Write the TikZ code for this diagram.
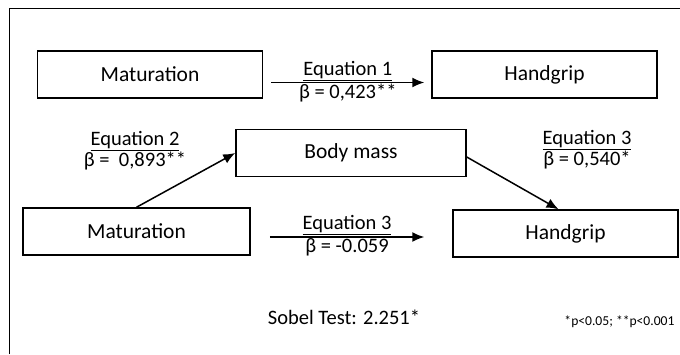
\documentclass[tikz,border=0pt]{standalone}
\usepackage{fontspec}
\setmainfont{Carlito}
\usetikzlibrary{positioning,arrows,arrows.meta}
\tikzset{
  var_box/.style = {rectangle, draw=black, line width=1.5pt, inner sep=0pt,
    minimum width=225pt, minimum height=47pt,
    font=\fontsize{21.5}{25}\selectfont},
  eq_lbl/.style = {align=center, inner sep=1pt,
    font=\fontsize{20.5}{21}\selectfont},% coefficient labels
  path_arr/.style = {-{Latex[length=12pt,width=10pt]}, line width=1.5pt}
}

\begin{document}
\begin{tikzpicture}[x=1pt, y=-1pt]
\useasboundingbox (0,0) rectangle (680,354);
\draw [line width=1pt] (9,354) -- (9,8) -- (680,8);
% total effect
\node [var_box] (mat_a) at (150,74.5) {Maturation};
\node [var_box] (hg_a) at (544.5,74.5) {Handgrip};
% mediation model
\node [var_box, minimum width=230pt] (bm) at (351,153) {Body mass};
\node [var_box, minimum width=227pt] (mat_b) at (136.5,231.5) {Maturation};
\node [var_box] (hg_b) at (565.5,233.5) {Handgrip};

\draw [path_arr] ([xshift=8pt, yshift=-8pt]mat_a.east)
  -- ([xshift=-7pt, yshift=-8pt]hg_a.west)
  node [eq_lbl, midway, above] {\underline{Equation 1}}
  node [eq_lbl, midway, below] {β = 0,423**};
\draw [path_arr] (mat_b.north) -- (bm.west);
\draw [path_arr] ([yshift=-4pt]bm.east) -- ([xshift=-7pt]hg_b.north);
\draw [path_arr] ([xshift=19pt, yshift=-5.5pt]mat_b.east)
  -- ([xshift=-28pt, yshift=-3.5pt]hg_b.west)
  node [eq_lbl, midway, above] {\underline{Equation 3}}
  node [eq_lbl, midway, below] {β = -0.059};

\node [eq_lbl] (eq_b) at (135,151) {\underline{Equation 2}\\β =\ \ 0,893**};
\node [eq_lbl] (eq_c) at (587,150) {\underline{Equation 3}\\β = 0,540*};
\node [font=\fontsize{20.5}{24}\selectfont] (sobel) at (344,317)
  {Sobel Test: 2.251*};
\node [anchor=east, font=\fontsize{13.6}{16}\selectfont] (sig) at (678,322)
  {*p<0.05; **p<0.001};
\end{tikzpicture}
\end{document}
